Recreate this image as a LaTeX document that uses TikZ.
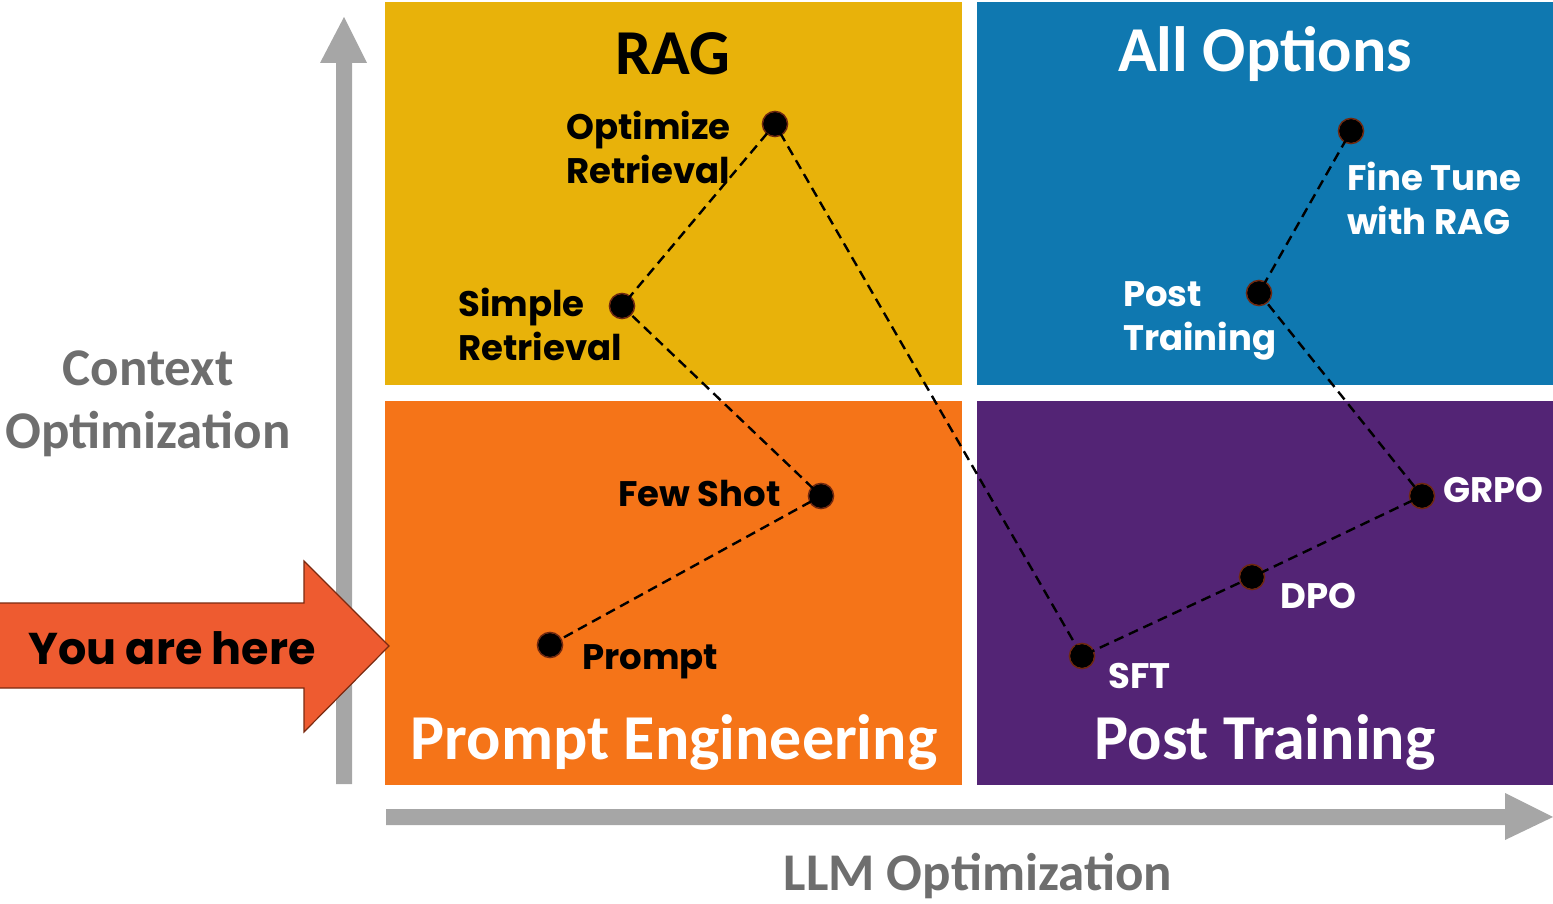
\documentclass[tikz,border=0pt]{standalone}
\usepackage{fontspec}
\setmainfont{Carlito}
\newfontfamily\labfont{Poppins}
\usetikzlibrary{shapes.arrows}
\definecolor{ragc}{RGB}{232,178,10}
\definecolor{allc}{RGB}{15,120,176}
\definecolor{prc}{RGB}{245,116,24}
\definecolor{ptc}{RGB}{83,36,117}
\definecolor{grayc}{RGB}{166,166,166}
\definecolor{youc}{RGB}{238,91,48}
\definecolor{youb}{RGB}{123,42,16}
\definecolor{dotb}{RGB}{110,40,16}
\definecolor{axtxt}{RGB}{110,110,110}
\tikzset{
  quad/.style={inner sep=0pt, outer sep=0pt},
  dot/.style={circle, fill=black, draw=dotb, line width=1.6pt, minimum size=25pt, inner sep=0pt},
  lab/.style={font=\labfont\bfseries\fontsize{35.5}{44}\selectfont, inner sep=0pt, align=left, anchor=west},
  ttl/.style={font=\bfseries\fontsize{64}{70}\selectfont, inner sep=0pt},
  axl/.style={font=\bfseries\fontsize{53}{63}\selectfont, text=axtxt, inner sep=0pt, align=center},
  link/.style={dashed, dash pattern=on 10pt off 6pt, line width=2.4pt, black},
  grayarrow/.style={fill=grayc, draw=none}
}
\begin{document}
\begin{tikzpicture}[x=1pt,y=-1pt]
\useasboundingbox (0,0) rectangle (1553,904);
% quadrants
\fill[ragc] (385,2) rectangle (962,385);
\fill[allc] (977,2) rectangle (1553,385);
\fill[prc] (385,401) rectangle (962,785);
\fill[ptc] (977,401) rectangle (1553,785);
% axes arrows
\fill[grayarrow] (336,784) -- (336,63) -- (320,63) -- (344,17) -- (367,63) -- (352,63) -- (352,784) -- cycle;
\fill[grayarrow] (386,809) -- (1505,809) -- (1505,793) -- (1553,817) -- (1505,840) -- (1505,825) -- (386,825) -- cycle;
% you are here arrow
\draw[fill=youc, draw=youb, line width=1.2pt] (-2,603) -- (304,603) -- (304,561) -- (389,646) -- (304,732) -- (304,688) -- (-2,688) -- cycle;
\node[font=\labfont\bfseries\fontsize{44.5}{50}\selectfont, inner sep=0pt] (you) at (172,648) {You are here};
% titles
\node[ttl] (rag) at (673,54) {RAG};
\node[ttl, text=white] (allo) at (1265,54) {All Options};
\node[ttl, text=white] (pe) at (674,742) {Prompt Engineering};
\node[ttl, text=white] (ptt) at (1265,742) {Post Training};
\node[axl] (ctx) at (148,404) {Context\\Optimization};
\node[axl] (llm) at (978,876) {LLM Optimization};
% dots
\node[dot] (opt) at (775,124) {};
\node[dot] (sim) at (622,306) {};
\node[dot] (few) at (821,496) {};
\node[dot] (pro) at (550,645) {};
\node[dot] (sft) at (1082,656) {};
\node[dot] (dpo) at (1252,577) {};
\node[dot] (grpo) at (1422,496) {};
\node[dot] (post) at (1259,293) {};
\node[dot] (fine) at (1351,131) {};
% links
\draw[link] (pro.center) -- (few.center) -- (sim.center) -- (opt.center) -- (sft.center) -- (dpo.center) -- (grpo.center) -- (post.center) -- (fine.center);
% redraw dots over links
\foreach \n in {opt,sim,few,pro,sft,dpo,grpo,post,fine}{\fill[black] (\n) circle (11.5pt);}
% labels
\node[lab] (loptr) at (566,147) {Optimize\\Retrieval};
\node[lab] (lsim) at (458,324) {Simple\\Retrieval};
\node[lab] (lfew) at (618,494) {Few Shot};
\node[lab] (lpro) at (582,662) {Prompt};
\node[lab, text=white] (lsft) at (1108,676) {SFT};
\node[lab, text=white] (ldpo) at (1280,596) {DPO};
\node[lab, text=white] (lgrpo) at (1443,490) {GRPO};
\node[lab, text=white] (lpost) at (1123,321) {Post\\Training};
\node[lab, text=white] (lfine) at (1347,198) {Fine Tune\\with RAG};
\end{tikzpicture}
\end{document}
